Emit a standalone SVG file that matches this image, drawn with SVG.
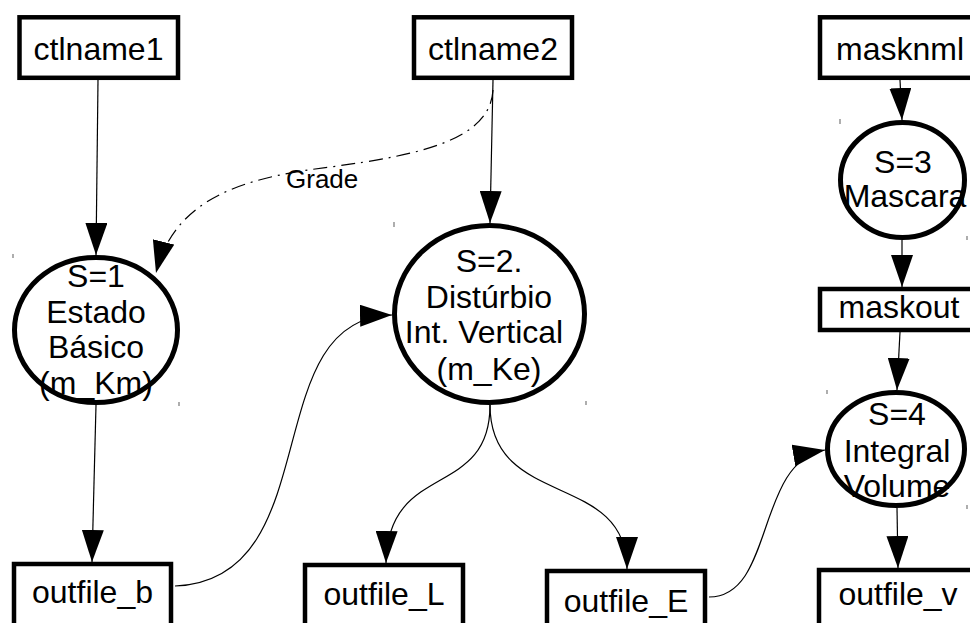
<svg xmlns="http://www.w3.org/2000/svg" width="970" height="623" viewBox="0 0 970 623">
<defs>
<style>
.box{fill:#fff;stroke:#000;stroke-width:4.5}
.ell{fill:#fff;stroke:#000;stroke-width:5}
.t{font-family:"Liberation Sans",Arial,sans-serif;font-size:32px;fill:#000;text-anchor:middle}
.lbl{font-family:"Liberation Sans",Arial,sans-serif;font-size:26px;fill:#000}
.c{fill:none;stroke:#000;stroke-width:1.2;marker-end:url(#ah)}
.d{fill:none;stroke:#000;stroke-width:1.2;stroke-dasharray:14 6 2 6;marker-end:url(#ah)}
.tick{stroke:#777;stroke-width:1.2}
</style>
<marker id="ah" markerUnits="userSpaceOnUse" markerWidth="33" markerHeight="22" refX="32" refY="11" orient="auto">
<path d="M0,0 L32,11 L0,22 Z" fill="#000"/>
</marker>
</defs>
<rect width="970" height="623" fill="#fff"/>

<g id="connectors">
<path class="c" d="M98,80 L96,255"/>
<path class="c" d="M493,80 L490,223"/>
<path class="c" d="M900,80 L902,120"/>
<path class="c" d="M902,240 L902,287"/>
<path class="c" d="M900,332 L897,390"/>
<path class="c" d="M897,508 L898,568"/>
<path class="c" d="M96,405 L92,562"/>
<path class="c" d="M490,405 C490,500 388,460 386,563"/>
<path class="c" d="M490,405 C490,510 627,470 627,569"/>
<path class="c" d="M175,586 C330,580 255,318 392,315"/>
<path class="c" d="M709,597 C775,597 755,462 825,450"/>
<path class="d" d="M493,90 C490,140 420,155 330,167 C250,177 175,195 156,273"/>
<text class="lbl" x="286" y="188">Grade</text>
</g>

<g id="ctlname1"><rect class="box" x="19.5" y="17.3" width="158.5" height="60.5"/><text class="t" x="98.5" y="60">ctlname1</text></g>
<g id="ctlname2"><rect class="box" x="414" y="17.3" width="158" height="60.5"/><text class="t" x="493" y="60">ctlname2</text></g>
<g id="masknml"><rect class="box" x="820" y="17.3" width="170" height="60.5"/><text class="t" x="900" y="60">masknml</text></g>
<g id="maskout"><rect class="box" x="820" y="289" width="170" height="41"/><text class="t" x="899" y="318">maskout</text></g>
<g id="outfile_b"><rect class="box" x="14" y="564" width="157" height="70"/><text class="t" x="92.5" y="603">outfile_b</text></g>
<g id="outfile_L"><rect class="box" x="305" y="565" width="158" height="70"/><text class="t" x="384" y="605">outfile_L</text></g>
<g id="outfile_E"><rect class="box" x="547" y="571" width="158" height="70"/><text class="t" x="626" y="612">outfile_E</text></g>
<g id="outfile_v"><rect class="box" x="819" y="570" width="170" height="70"/><text class="t" x="898" y="605">outfile_v</text></g>

<g id="S1"><ellipse class="ell" cx="96" cy="330" rx="81.5" ry="72.5"/>
<text class="t" x="96" y="287">S=1</text><text class="t" x="96" y="323">Estado</text><text class="t" x="96" y="358">Básico</text><text class="t" x="96" y="394">(m_Km)</text></g>
<g id="S2"><ellipse class="ell" cx="489.5" cy="314" rx="95" ry="88.5"/>
<text class="t" x="489" y="272">S=2.</text><text class="t" x="489" y="308">Distúrbio</text><text class="t" x="484" y="343">Int. Vertical</text><text class="t" x="489" y="380">(m_Ke)</text></g>
<g id="S3"><ellipse class="ell" cx="902.5" cy="180" rx="62" ry="57.5"/>
<text class="t" x="903" y="173">S=3</text><text class="t" x="905" y="207">Mascara</text></g>
<g id="S4"><ellipse class="ell" cx="896" cy="449" rx="68.5" ry="56.5"/>
<text class="t" x="897" y="425">S=4</text><text class="t" x="897" y="462">Integral</text><text class="t" x="897" y="497">Volume</text></g>

<g id="ticks">
<line class="tick" x1="13" y1="254" x2="13" y2="258"/>
<line class="tick" x1="179" y1="402" x2="179" y2="406"/>
<line class="tick" x1="394" y1="222" x2="394" y2="227"/>
<line class="tick" x1="586" y1="401" x2="586" y2="405"/>
<line class="tick" x1="840" y1="119" x2="840" y2="124"/>
<line class="tick" x1="967" y1="236" x2="967" y2="240"/>
<line class="tick" x1="827" y1="390" x2="827" y2="394"/>
<line class="tick" x1="967" y1="505" x2="967" y2="509"/>
</g>
</svg>
